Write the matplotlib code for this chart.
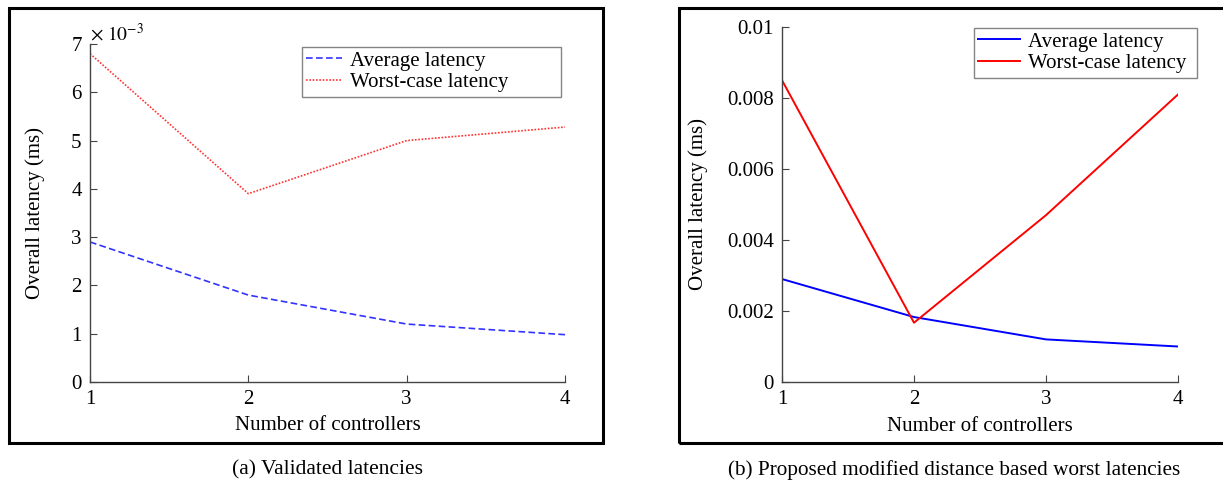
import matplotlib
matplotlib.use("Agg")
import matplotlib.pyplot as plt
from matplotlib.patches import Rectangle

# Number of controllers on the x axis
controllers = [1, 2, 3, 4]

# (a) validated latencies, ms
avg_validated   = [0.0029, 0.0018, 0.0012, 0.00098]
worst_validated = [0.0068, 0.0039, 0.0050, 0.00528]

# (b) proposed modified distance based worst latencies, ms
avg_proposed   = [0.0029, 0.00183, 0.0012, 0.001]
worst_proposed = [0.0085, 0.00167, 0.0047, 0.0081]

yticks_a = [0, 0.001, 0.002, 0.003, 0.004, 0.005, 0.006, 0.007]
ytick_labels_a = ["0", "1", "2", "3", "4", "5", "6", "7"]
yticks_b = [0, 0.002, 0.004, 0.006, 0.008, 0.01]
ytick_labels_b = ["0", "0.002", "0.004", "0.006", "0.008", "0.01"]

plt.rcParams["font.family"] = ["Liberation Serif", "DejaVu Serif"]
plt.rcParams["mathtext.fontset"] = "stix"
FS = 15
SPINE = "#444444"

W, H = 1223, 482
fig = plt.figure(figsize=(W / 100, H / 100), dpi=100)


def px_axes(x0, x1, y_top, y_bot):
    return fig.add_axes([x0 / W, 1 - y_bot / H, (x1 - x0) / W, (y_bot - y_top) / H])


def style(ax, ylab_x, xlab_y):
    for side in ("top", "right"):
        ax.spines[side].set_visible(False)
    for side in ("left", "bottom"):
        ax.spines[side].set_color(SPINE)
        ax.spines[side].set_linewidth(1.0)
    ax.tick_params(direction="in", length=5, width=0.8, color=SPINE,
                   labelsize=FS, pad=6)
    ax.set_xlim(1, 4)
    ax.set_xticks(controllers)
    ax.set_xlabel("Number of controllers", fontsize=FS)
    ax.set_ylabel("Overall latency (ms)", fontsize=FS)
    ax.xaxis.set_label_coords(0.5, xlab_y)
    ax.yaxis.set_label_coords(ylab_x, 0.5)
    ax.xaxis.label.set_va("center")
    ax.yaxis.label.set_va("center")


def add_legend(ax, x0, y0, x1, y1, hlen):
    # legend box given in pixel coords of the reference
    leg = ax.legend(loc="upper left",
                    bbox_to_anchor=(x0 / W, 1 - y1 / H, (x1 - x0) / W, (y1 - y0) / H),
                    bbox_transform=fig.transFigure, mode="expand", fontsize=FS,
                    frameon=True, fancybox=False, handlelength=hlen,
                    borderpad=0.2, borderaxespad=0, labelspacing=0.1,
                    handletextpad=0.4)
    leg.get_frame().set_edgecolor("#666666")
    leg.get_frame().set_linewidth(1.0)
    return leg


# outer frames round each panel
fig.patches.append(Rectangle((8.5 / W, 1 - 443 / H), (603 - 8.5) / W, (443 - 7.5) / H,
                             transform=fig.transFigure, fill=False,
                             edgecolor="black", linewidth=2.2))
fig.patches.append(Rectangle((679 / W, 1 - 443 / H), (1240 - 679) / W, (443 - 7.5) / H,
                             transform=fig.transFigure, fill=False,
                             edgecolor="black", linewidth=2.2, clip_on=False))

# (a)
ax1 = px_axes(90, 565, 44, 382)
ax1.plot(controllers, avg_validated, color="#3333ff", linestyle=(0, (4, 2)),
         linewidth=1.2, label="Average latency")
ax1.plot(controllers, worst_validated, color="#ff3333", linestyle=(0, (1, 1)),
         linewidth=1.2, label="Worst-case latency")
ax1.set_ylim(0, 0.007)
ax1.set_yticks(yticks_a)
ax1.set_yticklabels(ytick_labels_a)
style(ax1, -0.116, -0.13)
ax1.text(0.0, 0.997, r"$\times\ 10^{-3}$", transform=ax1.transAxes,
         fontsize=FS - 1, ha="left", va="bottom")
add_legend(ax1, 302, 47, 561, 97, 1.7)

# (b)
ax2 = px_axes(782, 1178, 27, 382)
ax2.plot(controllers, avg_proposed, color="#0000ff", linewidth=1.4,
         label="Average latency")
ax2.plot(controllers, worst_proposed, color="#ff0000", linewidth=1.4,
         label="Worst-case latency")
ax2.set_ylim(0, 0.01)
ax2.set_yticks(yticks_b)
ax2.set_yticklabels(ytick_labels_b)
style(ax2, -0.212, -0.124)
add_legend(ax2, 974, 28, 1197, 77, 2.0)

# captions
fig.text(328 / W, 1 - 470 / H, "(a) Validated latencies", fontsize=15.5,
         ha="center", va="center")
fig.text(954 / W, 1 - 470 / H, "(b) Proposed modified distance based worst latencies",
         fontsize=15.3, ha="center", va="center")

fig.savefig("out.png", dpi=100)
